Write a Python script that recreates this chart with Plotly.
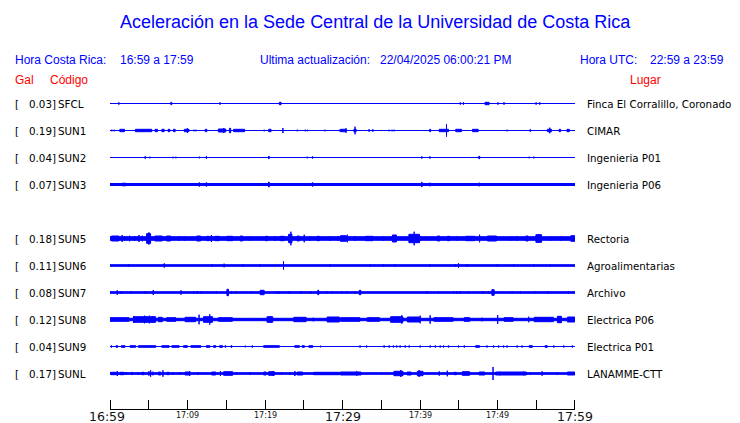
import plotly.graph_objects as go

# ---------------- data ----------------
STATIONS = ["SFCL", "SUN1", "SUN2", "SUN3", "SUN5", "SUN6", "SUN7", "SUN8", "SUN9", "SUNL"]
ROWS = [0, 1, 2, 3, 5, 6, 7, 8, 9, 10]
GAL = ["0.03", "0.19", "0.04", "0.07", "0.18", "0.11", "0.08", "0.12", "0.04", "0.17"]
PLACES = ["Finca El Corralillo, Coronado", "CIMAR", "Ingenieria P01", "Ingenieria P06",
          "Rectoria", "Agroalimentarias", "Archivo", "Electrica P06", "Electrica P01", "LANAMME-CTT"]
# background (noise) half amplitude of each trace
BASE = [0.5, 0.5, 0.5, 1.5, 2.3, 1.3, 1.3, 1.7, 0.5, 1.3]

TICK_MIN = [0, 5, 10, 15, 20, 25, 30, 35, 40, 45, 50, 55, 60]
TICK_LABELS = ["16:59", "", "17:09", "", "17:19", "", "17:29", "", "17:39", "", "17:49", "", "17:59"]
MAJOR_LABELS = ["16:59", "17:29", "17:59"]

# bursts: (minute after 16:59, duration in minutes, half amplitude)
SFCL_EV = [(1.14, 0, 1.7), (3.47, 0, 1.0), (7.91, 0.25, 1.7), (10.58, 0, 1.0), (11.23, 0, 1.0),
           (14.2, 0, 1.7), (21.6, 0, 1.0), (21.96, 0.35, 1.7), (31.2, 0, 1.0), (45.2, 0, 1.7),
           (45.6, 0, 1.7), (48.65, 0.65, 1.7), (49.4, 0, 1.0), (50.06, 0, 1.7), (50.84, 0, 1.7),
           (54.98, 0, 1.7), (55.45, 0, 1.7), (59.33, 0, 1.0)]
SUN1_EV = [(0.24, 0, 1.3), (0.54, 0, 1.3), (0.80, 0, 1.0), (1.57, 0.73, 1.7), (2.35, 0, 1.0),
           (2.95, 0, 0.7), (4.33, 2.24, 1.7), (5.97, 0.43, 1.7), (6.84, 0.43, 1.7), (7.61, 0.34, 1.7),
           (8.30, 0.34, 1.7), (8.81, 0, 1.0), (9.89, 0.73, 1.7), (9.98, 0, 2.7), (10.84, 0, 1.3),
           (11.10, 0, 1.3), (11.44, 0, 0.7), (12.39, 0.34, 1.7), (12.87, 0, 0.7), (13.30, 0, 1.0),
           (14.46, 1.08, 2.0), (14.68, 0, 3.0), (15.49, 0.3, 2.7), (16.66, 1.55, 1.7), (18.9, 0, 0.7),
           (19.33, 0, 0.7), (19.89, 0, 1.3), (20.63, 0.43, 1.7), (21.62, 0, 1.0), (22.31, 0, 3.0),
           (24.16, 0, 1.3), (25.19, 0, 1.3), (25.45, 0, 1.3), (26.22, 0, 0.7), (27.3, 0, 1.0),
           (27.74, 0, 1.3), (28.38, 0, 0.7), (29.59, 0, 1.3),
           (30.11, 0.86, 1.7), (30.45, 0, 2.7), (31.62, 0.43, 1.7), (31.62, 0, 4.3), (32.26, 0, 1.0),
           (32.69, 0, 0.7), (33.43, 0.26, 1.3), (33.9, 0.26, 1.3), (34.5, 0, 0.7), (34.76, 0, 0.7),
           (35.71, 0, 1.0), (36.01, 0, 1.3), (36.4, 0, 1.3), (36.66, 0, 1.3), (39.16, 0, 0.7),
           (39.38, 0, 0.7), (40.2, 0, 0.7), (41.31, 0.26, 1.7), (41.74, 0, 0.7), (42.04, 0, 0.7),
           (43.08, 1.34, 1.7), (43.42, 0, 6.7), (44.98, 0.86, 1.7), (45.84, 0, 0.7), (46.27, 0, 0.7),
           (47.14, 0.86, 1.7), (50.8, 0, 0.7), (51.23, 0, 1.3), (51.66, 0, 1.0), (52.53, 0, 1.0),
           (53.52, 0, 0.7), (54.24, 0.26, 1.3), (55.28, 0, 0.7), (55.71, 0, 0.7), (56.14, 0, 1.0),
           (56.70, 0.65, 1.7), (56.74, 0, 3.3), (57.48, 0, 0.7), (58.04, 0.3, 1.7), (59.12, 0.43, 1.7)]
SUN2_EV = [(1.36, 0, 0.7), (1.66, 0, 0.7), (2.82, 0, 0.7), (4.55, 0.26, 1.3), (5.15, 0, 1.3),
           (8.13, 0, 1.3), (8.51, 0, 1.3), (9.03, 0, 0.7), (11.53, 0, 1.3), (12.44, 0.17, 1.7),
           (20.5, 0.22, 1.7), (20.93, 0, 1.0), (21.3, 0, 0.7), (24.34, 0, 0.7), (25.45, 0, 1.3),
           (26.14, 0.22, 1.3), (35.93, 0, 1.0), (40.24, 0.22, 1.3), (41.28, 0.22, 1.3), (45.76, 0, 0.7),
           (47.18, 0, 0.7), (47.65, 0.26, 1.7), (48.56, 0, 0.7), (51.83, 0, 0.7), (54.08, 0, 1.3),
           (54.68, 0, 1.3)]
SUN3_EV = [(1.66, 0, 2.3), (1.92, 0, 2.3), (5.8, 0, 2.0), (8.13, 0, 2.0), (11.53, 0.22, 2.3),
           (12.44, 0.22, 2.3), (20.5, 0.22, 3.0), (24.34, 0, 2.0), (25.45, 0, 2.0), (26.14, 0.22, 2.3),
           (35.07, 0, 2.0), (35.93, 0, 2.0), (40.24, 0.17, 3.0), (41.28, 0, 2.3), (47.65, 0, 2.3),
           (54.08, 0, 2.0), (54.68, 0, 2.0)]
SUN5_EV = [(0.67, 1.08, 3.0), (1.57, 0, 4.0), (1.88, 0, 2.7), (2.52, 0, 3.3), (3.17, 0, 3.0),
           (3.73, 0, 4.0), (4.16, 0, 3.3), (4.98, 0.65, 5.3), (5.02, 0, 6.7), (6.27, 1.08, 3.0),
           (7.56, 0.65, 3.0), (8.9, 0, 2.7), (9.63, 0, 2.7), (11.44, 0.65, 3.0), (12.65, 0.43, 2.7),
           (13.08, 0, 4.0), (13.82, 0.65, 2.7), (15.45, 0.86, 2.7), (16.96, 0.43, 3.0), (18.04, 0, 2.7),
           (20.2, 0.43, 2.7), (21.27, 0, 3.0), (22.22, 0.65, 2.7), (23.26, 0.56, 4.7), (23.34, 0, 7.3),
           (24.29, 0.43, 3.0), (25.06, 0, 4.3), (25.79, 0, 2.7), (26.87, 0.43, 2.7), (28.38, 0, 3.0),
           (29.46, 0, 3.0),
           (30.11, 0.86, 3.3), (30.62, 0, 4.3), (31.62, 0, 3.0), (33.43, 1.08, 2.7), (35.28, 0, 2.7),
           (36.7, 0.65, 4.0), (39.25, 1.5, 4.7), (39.25, 0, 7.3), (40.1, 0, 2.7), (42.39, 0.43, 3.0),
           (43.69, 0.43, 2.7), (44.76, 0, 2.7), (46.49, 1.3, 2.7), (47.69, 0, 4.3), (49.29, 1.3, 3.0),
           (51.66, 0, 2.7), (52.53, 0, 2.7), (53.81, 0.43, 3.0), (55.32, 0.86, 4.3), (55.32, 0, 5.0),
           (56.83, 0, 2.7), (58.13, 0, 2.7), (59.72, 0.65, 3.3)]
SUN6_EV = [(2.44, 0, 1.7), (7.0, 0.22, 2.3), (13.17, 0, 1.7), (14.72, 0, 2.3), (17.18, 0, 1.7),
           (19.38, 0, 1.7), (22.39, 0, 4.7), (28.38, 0, 1.7), (33.56, 0, 1.7), (35.28, 0, 1.7),
           (36.79, 0, 1.7), (41.31, 0, 1.7), (44.55, 0, 2.0), (44.98, 0, 2.7), (46.06, 0, 2.0),
           (49.94, 0, 1.7), (52.09, 0, 1.7), (54.68, 0, 1.7), (56.83, 0, 1.7)]
SUN7_EV = [(0.02, 0, 2.0), (0.93, 0, 2.7), (1.44, 0, 2.0), (2.74, 0, 1.7), (4.55, 0, 2.0),
           (5.58, 0, 3.0), (9.16, 0, 2.7), (10.8, 0, 1.7), (11.27, 0, 2.0), (11.79, 0, 2.0),
           (13.73, 0, 1.7), (15.19, 0.34, 3.7), (15.67, 0, 2.0), (16.23, 0, 1.7), (18.25, 0, 1.7),
           (19.63, 0.65, 2.7), (21.49, 0, 1.7), (21.79, 0, 2.0), (23.13, 0, 2.0), (24.64, 0, 1.7),
           (25.93, 0, 1.7), (26.87, 0.26, 2.7), (27.95, 0, 2.0), (28.6, 0, 1.7), (29.89, 0, 1.7),
           (30.54, 0, 1.7), (31.62, 0, 1.7), (32.26, 0.34, 2.7), (40.88, 0, 2.0), (42.39, 0, 1.7),
           (44.33, 0, 1.7), (44.76, 0, 2.0), (45.19, 0, 2.0), (46.27, 0, 1.7), (48.1, 0, 2.0),
           (48.88, 0, 1.7), (49.42, 0.43, 3.3), (51.9, 0, 1.7), (52.97, 0, 1.7), (54.83, 0, 1.7),
           (56.55, 0, 2.0), (59.2, 0, 1.7)]
SUN8_EV = [(1.23, 2.6, 2.3), (3.08, 0, 4.0), (4.46, 3.0, 3.3), (4.46, 0, 4.3), (5.11, 0, 4.3),
           (5.54, 0, 3.7), (6.49, 0.65, 2.7), (7.91, 1.3, 2.3), (8.99, 0, 2.0), (10.37, 1.5, 2.7),
           (11.49, 0, 5.3), (12.65, 1.3, 3.3), (12.87, 0, 5.7), (14.89, 1.94, 2.3), (16.75, 0, 2.0),
           (17.6, 0, 2.0), (18.9, 0, 2.0), (20.63, 0.86, 3.3), (20.71, 0, 4.0), (21.7, 0, 2.0),
           (24.51, 1.72, 2.7), (26.23, 0, 2.3), (28.81, 1.72, 3.0),
           (31.0, 2.6, 2.3), (33.98, 1.72, 2.3), (37.0, 1.72, 3.3), (37.65, 0, 4.7), (39.16, 1.72, 3.0),
           (40.02, 0, 4.3), (41.31, 0, 4.7), (43.04, 2.6, 2.3), (46.06, 0.86, 2.3), (47.99, 0, 2.3),
           (50.02, 0, 5.0), (51.44, 1.3, 2.3), (54.03, 0, 3.3), (55.97, 2.6, 2.7), (57.99, 0.65, 3.7),
           (59.5, 1.08, 3.0)]
SUN9_EV = [(0.17, 0.22, 1.3), (0.88, 0.34, 1.3), (1.7, 0.6, 1.3), (2.95, 0.86, 1.3), (4.78, 2.37, 1.3),
           (7.16, 1.08, 1.3), (8.45, 1.08, 1.3), (9.74, 0.65, 1.3), (11.08, 1.42, 1.3), (12.65, 0.6, 1.3),
           (13.51, 0.43, 1.3), (14.33, 0.52, 1.3), (14.89, 0.22, 1.3), (15.67, 0.26, 1.3), (17.46, 0.13, 1.3),
           (18.36, 0.22, 1.3), (20.84, 2.16, 1.3), (24.14, 0.73, 1.3), (24.94, 0.43, 1.3), (25.91, 0.65, 1.3),
           (27.16, 0.13, 1.3), (32.26, 0.2, 1.3), (33.12, 0.2, 1.3), (35.37, 0.22, 1.3), (36.01, 0.22, 1.3),
           (36.57, 0.2, 1.3), (37.0, 0.2, 1.3), (37.43, 0.2, 1.3), (38.08, 0.2, 1.3), (38.6, 0.2, 1.3),
           (40.02, 0.2, 1.3), (41.31, 0.2, 1.3), (41.96, 0.2, 1.3), (42.6, 0.2, 1.3), (43.04, 0.2, 1.3),
           (43.69, 0.2, 1.3), (44.98, 0.2, 1.3), (45.71, 0.2, 1.3), (47.43, 0.65, 1.3), (48.64, 0.2, 1.3),
           (49.5, 0.2, 1.3), (50.15, 0.2, 1.3), (50.8, 0.2, 1.3), (51.23, 0.2, 1.3), (52.53, 0.2, 1.3),
           (53.17, 0.2, 1.3), (54.29, 0.56, 1.3), (56.28, 0.43, 1.3), (57.27, 0.2, 1.3), (58.56, 0.2, 1.3),
           (59.64, 0.2, 1.3)]
SUNL_EV = [(0.43, 0.73, 1.7), (0.93, 0, 3.0), (1.55, 0.65, 1.7), (2.09, 0, 2.0), (2.84, 0.22, 1.7),
           (3.6, 0, 2.0), (4.25, 0.43, 1.7), (5.02, 0, 2.7), (5.24, 0, 3.7), (5.54, 0, 2.3),
           (6.4, 0.43, 2.0), (6.83, 0, 3.7), (7.48, 0.43, 1.7), (8.13, 0, 1.7), (8.99, 0, 2.0),
           (9.94, 0.65, 2.0), (10.28, 0, 3.0), (11.36, 0, 2.0), (13.38, 0.65, 2.0), (14.25, 0, 3.0),
           (15.24, 1.3, 2.3), (16.31, 0, 1.7), (18.04, 0, 2.0), (19.98, 0.43, 2.0), (20.84, 0.86, 2.3),
           (21.06, 0, 3.0), (22.13, 0, 2.0), (23.21, 0, 1.7), (23.86, 0, 3.0), (24.51, 0.86, 2.0),
           (27.95, 3.45, 1.7),
           (31.06, 2.8, 2.0), (31.84, 0, 2.7), (35.07, 0, 1.3), (37.22, 1.3, 2.7), (37.52, 0, 4.0),
           (38.6, 0.65, 2.0), (40.02, 0.86, 2.7), (39.89, 0, 4.0), (40.98, 0, 1.3), (42.48, 0, 2.7),
           (43.52, 0, 3.3), (44.55, 0.43, 1.7), (45.92, 1.08, 2.3), (47.99, 0.86, 2.0), (49.42, 0, 7.0),
           (51.74, 4.1, 2.0), (50.28, 0, 2.3), (53.38, 0, 2.3), (54.24, 0, 2.0), (55.75, 0, 2.7),
           (57.69, 0, 1.7), (59.5, 1.08, 2.0)]
EVENTS = [SFCL_EV, SUN1_EV, SUN2_EV, SUN3_EV, SUN5_EV, SUN6_EV, SUN7_EV, SUN8_EV, SUN9_EV, SUNL_EV]

# ---------------- layout constants ----------------
W, H = 740, 423
OFF = 8                      # page body margin offset of the figure in the window
PLOT_L, PLOT_R, PLOT_T, PLOT_B = 110, 575, 90, 409   # plot box in window pixels
ML, MT = PLOT_L - OFF, PLOT_T - OFF
MR, MB = W - (PLOT_R - OFF), H - (PLOT_B - OFF)
PITCH = 27
ROW0 = 103.5
PW, PH = PLOT_R - PLOT_L, PLOT_B - PLOT_T
BLUE = "#0000ff"
RED = "#ff0000"
STROKE = 1.0
TICK_LEN = 9
MIN_PER_PX = 60.0 / PW
LBL_FONT = dict(family="DejaVu Sans", size=10.3, color="black")


def px_x(px):
    return (px - PLOT_L) / PW


def px_y(py):
    return (PLOT_B - py) / PH


fig = go.Figure()

for name, row, base, evs in zip(STATIONS, ROWS, BASE, EVENTS):
    c = row * PITCH
    xs, ys = [], []
    b = max(base - STROKE / 2, 0)
    xs += [0, 60, 60, 0, 0, None]
    ys += [c - b, c - b, c + b, c + b, c - b, None]
    for t, w, a in evs:
        hw = max(w - MIN_PER_PX, 0) / 2
        ha = max(a - STROKE / 2, 0)
        x0, x1 = max(t - hw, 0), min(t + hw, 60)
        xs += [x0, x1, x1, x0, x0, None]
        ys += [c - ha, c - ha, c + ha, c + ha, c - ha, None]
    fig.add_trace(go.Scatter(x=xs, y=ys, mode="lines", fill="toself", fillcolor=BLUE,
                             line=dict(color=BLUE, width=STROKE), hoverinfo="skip",
                             showlegend=False, name=name))

top = ROW0 - PLOT_T
fig.update_layout(
    width=W, height=H, margin=dict(l=ML, r=MR, t=MT, b=MB, autoexpand=False),
    paper_bgcolor="white", plot_bgcolor="white", showlegend=False,
    font=dict(family="DejaVu Sans", size=11, color="black"),
    xaxis=dict(range=[0, 60], tickvals=TICK_MIN, showticklabels=False, ticks="inside",
               ticklen=TICK_LEN, tickwidth=1, tickcolor="black", showline=True, linecolor="black",
               linewidth=1, showgrid=False, zeroline=False, fixedrange=True, automargin=False),
    yaxis=dict(range=[PH - top, -top], visible=False, showgrid=False, zeroline=False,
               fixedrange=True, automargin=False),
)
# axis baseline and the two end ticks (paper-referenced so they are not clipped)
fig.add_shape(type="line", xref="paper", yref="paper", x0=0, x1=1,
              y0=-0.5 / PH, y1=-0.5 / PH, line=dict(color="black", width=1), layer="above")
for xe in (0.5 / PW, 1 - 0.5 / PW):
    fig.add_shape(type="line", xref="paper", yref="paper", x0=xe, x1=xe,
                  y0=0, y1=TICK_LEN / PH, line=dict(color="black", width=1), layer="above")

ann = []
ann.append(dict(text="Aceleración en la Sede Central de la Universidad de Costa Rica",
                x=px_x(375), y=px_y(22), xanchor="center", yanchor="middle",
                font=dict(family="Liberation Sans", size=18, color=BLUE)))
hdr = [("Hora Costa Rica:", 15), ("16:59 a 17:59", 120), ("Ultima actualización:", 260),
       ("22/04/2025 06:00:21 PM", 380), ("Hora UTC:", 580), ("22:59 a 23:59", 650)]
for txt, px in hdr:
    ann.append(dict(text=txt, x=px_x(px - 2), y=px_y(60), xanchor="left", yanchor="middle",
                    font=dict(family="Liberation Sans", size=12, color=BLUE)))
for txt, px in [("Gal", 15), ("Código", 50), ("Lugar", 630)]:
    ann.append(dict(text=txt, x=px_x(px - 2), y=px_y(80), xanchor="left", yanchor="middle",
                    font=dict(family="Liberation Sans", size=12, color=RED)))

for name, row, g, place in zip(STATIONS, ROWS, GAL, PLACES):
    yy = row * PITCH
    ann.append(dict(text="[", x=px_x(13), y=yy, yref="y", xanchor="left", yanchor="middle"))
    ann.append(dict(text=g + "]", x=px_x(58), y=yy, yref="y", xanchor="right", yanchor="middle"))
    ann.append(dict(text=name, x=px_x(56), y=yy, yref="y", xanchor="left", yanchor="middle"))
    ann.append(dict(text=place, x=px_x(585), y=yy, yref="y", xanchor="left", yanchor="middle"))

# time labels under the ticks
for i, (tv, lab) in enumerate(zip(TICK_MIN, TICK_LABELS)):
    if not lab:
        continue
    major = lab in MAJOR_LABELS
    ann.append(dict(text=lab, x=tv, xref="x", y=px_y(416.3 if major else 415.2),
                    xanchor="center", yanchor="middle", borderpad=0,
                    xshift=-3 if i == 0 else 0,
                    font=dict(family="DejaVu Sans", size=12.5 if major else 8, color="#111111")))

for a in ann:
    a.setdefault("xref", "paper")
    a.setdefault("yref", "paper")
    a["showarrow"] = False
    a.setdefault("font", LBL_FONT)
fig.update_layout(annotations=ann)

fig.write_html("out.html")
